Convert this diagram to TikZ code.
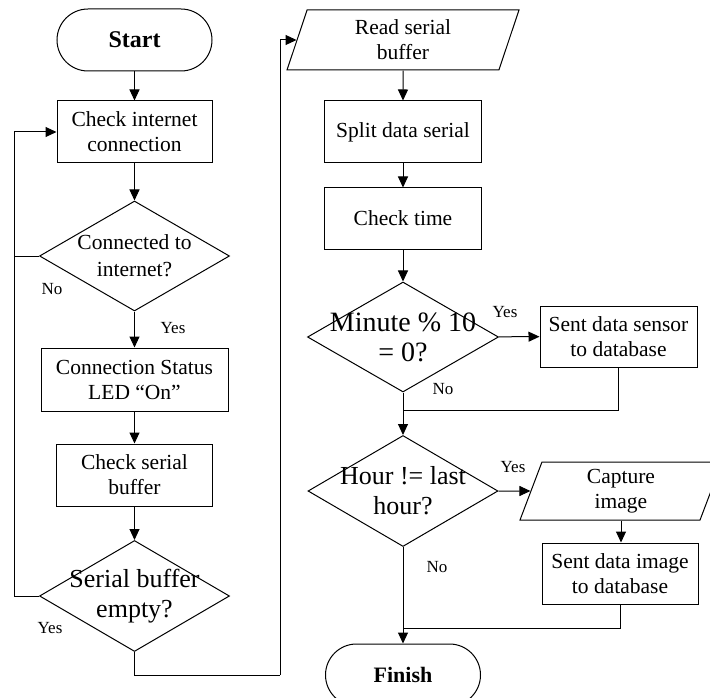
\documentclass[tikz,border=0pt]{standalone}
\usepackage{fontspec}
\setmainfont{Liberation Serif}
\usetikzlibrary{shapes.geometric,arrows.meta}
\tikzset{
  base/.style={draw, line width=1pt, inner sep=0pt, align=center, font=\fontsize{21.5}{25}\selectfont},
  procbox/.style={base, rectangle},
  term/.style={base, rectangle, rounded corners=31pt, minimum width=155pt, minimum height=62pt, font=\fontsize{24}{28}\selectfont\bfseries},
  decis/.style={draw, line width=1pt, diamond, inner sep=0pt, minimum width=190pt, minimum height=110pt},
  dtext/.style={align=center, inner sep=0pt, font=\fontsize{21.5}{27}\selectfont},
  dbig/.style={align=center, inner sep=0pt, font=\fontsize{26}{30}\selectfont},
  io/.style={base, trapezium, trapezium left angle=63.4, trapezium right angle=116.6, trapezium stretches body},
  arr/.style={line width=1pt, -{Triangle[length=11pt,width=10pt]}},
  ln/.style={line width=1pt},
  yn/.style={font=\fontsize{17}{20}\selectfont, inner sep=0pt}
}
\begin{document}
\begin{tikzpicture}[x=1pt, y=-1pt]
\useasboundingbox (0,0) rectangle (710,698);
\clip (0,0) rectangle (710,698);
% left column
\node[term] (start) at (134.5,40) {Start};
\node[procbox, minimum width=155pt, minimum height=62pt] (chk) at (134.5,132) {Check internet\\connection};
\node[decis, label={[dtext]center:{Connected to\\internet?}}] (d1) at (134.5,256) {};
\node[procbox, minimum width=187pt, minimum height=63pt] (led) at (134.5,379.5) {Connection Status\\LED ``On''};
\node[procbox, minimum width=156pt, minimum height=62pt] (csb) at (134.5,475) {Check serial\\buffer};
\node[decis, minimum height=111pt, label={[dbig]center:{Serial buffer\\empty?}}] (d2) at (134.5,596) {};
% right column
\node[io, minimum width=232pt, minimum height=60pt] (read) at (403,40) {Read serial\\buffer};
\node[procbox, minimum width=157pt, minimum height=62pt] (split) at (403,132) {Split data serial};
\node[procbox, minimum width=157pt, minimum height=61pt] (time) at (403,218.5) {Check time};
\node[decis, minimum width=191pt, label={[dbig, font=\fontsize{28}{30}\selectfont]center:{Minute \% 10\\= 0?}}] (d3) at (403,337) {};
\node[procbox, minimum width=157pt, minimum height=61pt] (sensor) at (618.5,336.5) {Sent data sensor\\to database};
\node[decis, minimum height=111pt, label={[dbig]center:{Hour != last\\hour?}}] (d4) at (403,491) {};
\node[io, minimum width=202pt, minimum height=58pt] (cap) at (621,491) {Capture\\image};
\node[procbox, minimum width=156pt, minimum height=61pt] (img) at (620,573.5) {Sent data image\\to database};
\node[term, font=\fontsize{22}{26}\selectfont\bfseries] (finish) at (403,675) {Finish};
% helper coordinates
\coordinate (lx) at (14,0);
\coordinate (rx) at (280,675);
\coordinate (m1) at (403,410);
\coordinate (m2) at (403,628);
% connectors left
\draw[arr] (start) -- (chk);
\draw[arr] (chk) -- (d1);
\draw[arr] (d1) -- (led);
\draw[ln] (d1.west) -- (d1.west -| lx);
\draw[arr] (d2.west) -- (d2.west -| lx) |- (chk.west);
\draw[arr] (led) -- (csb);
\draw[arr] (csb) -- (d2);
\draw[ln] (d2.south) |- (rx);
\draw[arr] (rx) |- (read.west);
% connectors right
\draw[arr] (read) -- (split);
\draw[arr] (split) -- (time);
\draw[arr] (time) -- (d3);
\draw[arr] (d3) -- (sensor);
\draw[ln] (sensor.south) |- (m1);
\draw[arr] (d3) -- (d4);
\draw[arr] (d4) -- (cap);
\draw[arr] (cap.south) -- (img.north -| cap.south);
\draw[ln] (img.south) |- (m2);
\draw[arr] (d4) -- (finish);
% labels
\node[yn] (l1) at (52,289) {No};
\node[yn] (l2) at (173,328) {Yes};
\node[yn] (l3) at (50,628) {Yes};
\node[yn] (l4) at (505,312) {Yes};
\node[yn] (l5) at (443,389) {No};
\node[yn] (l6) at (513,467) {Yes};
\node[yn] (l7) at (437,567) {No};
\end{tikzpicture}
\end{document}
